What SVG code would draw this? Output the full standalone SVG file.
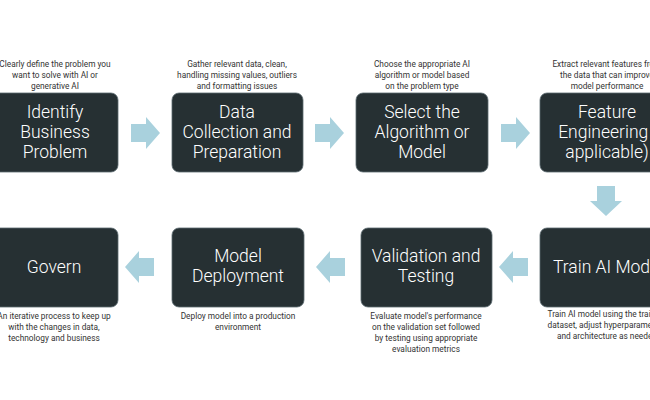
<svg xmlns="http://www.w3.org/2000/svg" width="650" height="400" viewBox="0 0 650 400">
<style>
.box{fill:#263033;stroke:#5b6a70;stroke-width:0.8}
.t{font-family:Roboto,"Liberation Sans",sans-serif;font-size:17.5px;font-weight:300;fill:#ffffff;text-anchor:middle}
.d{font-family:Roboto,"Liberation Sans",sans-serif;font-size:8.3px;fill:#333333;text-anchor:middle}
.ar{fill:#a9d1dd}
</style>
<rect width="650" height="400" fill="#ffffff"/>
<g id="connectors">
<polygon class="ar" points="131,124 146,124 146,117 160,133 146,149 146,142 131,142"/>
<polygon class="ar" points="315,124 330,124 330,117 344,133 330,149 330,142 315,142"/>
<polygon class="ar" points="501,124 516,124 516,117 530,133 516,149 516,142 501,142"/>
<polygon class="ar" points="597,186 615,186 615,201 622,201 606,216 590,201 597,201"/>
<polygon class="ar" points="528,258 513,258 513,251 499,267 513,283 513,276 528,276"/>
<polygon class="ar" points="345,258 330,258 330,251 316,267 330,283 330,276 345,276"/>
<polygon class="ar" points="154,258 139,258 139,251 125,267 139,283 139,276 154,276"/>
</g>
<g id="n1"><text class="d" x="55" y="67">Clearly define the problem you</text><text class="d" x="55" y="78">want to solve with AI or</text><text class="d" x="55" y="89">generative AI</text>
<rect class="box" x="-8" y="93" width="126" height="79" rx="7"/><text class="t" x="55" y="118">Identify</text><text class="t" x="55" y="138">Business</text><text class="t" x="55" y="158">Problem</text></g>
<g id="n2"><text class="d" x="237" y="67">Gather relevant data, clean,</text><text class="d" x="237" y="78">handling missing values, outliers</text><text class="d" x="237" y="89">and formatting issues</text>
<rect class="box" x="172" y="93" width="131" height="79" rx="7"/><text class="t" x="237" y="118">Data</text><text class="t" x="237" y="138">Collection and</text><text class="t" x="237" y="158">Preparation</text></g>
<g id="n3"><text class="d" x="422" y="67">Choose the appropriate AI</text><text class="d" x="422" y="78">algorithm or model based</text><text class="d" x="422" y="89">on the problem type</text>
<rect class="box" x="356" y="93" width="132" height="79" rx="7"/><text class="t" x="422" y="118">Select the</text><text class="t" x="422" y="138">Algorithm or</text><text class="t" x="422" y="158">Model</text></g>
<g id="n4"><text class="d" x="607" y="67">Extract relevant features from</text><text class="d" x="607" y="78">the data that can improve</text><text class="d" x="607" y="89">model performance</text>
<rect class="box" x="540" y="93" width="132" height="79" rx="7"/><text class="t" x="607" y="118">Feature</text><text class="t" x="613" y="138">Engineering (if</text><text class="t" x="607" y="158">applicable)</text></g>
<g id="n5"><rect class="box" x="540" y="228" width="132" height="79" rx="7"/><text class="t" x="608" y="273">Train AI Model</text>
<text class="d" x="607" y="317">Train AI model using the training</text><text class="d" x="607" y="328">dataset, adjust hyperparameters</text><text class="d" x="607" y="339">and architecture as needed</text></g>
<g id="n6"><rect class="box" x="361" y="228" width="131" height="79" rx="7"/><text class="t" x="426" y="262">Validation and</text><text class="t" x="426" y="282">Testing</text>
<text class="d" x="426" y="319">Evaluate model's performance</text><text class="d" x="426" y="330">on the validation set followed</text><text class="d" x="426" y="341">by testing using appropriate</text><text class="d" x="426" y="352">evaluation metrics</text></g>
<g id="n7"><rect class="box" x="172" y="228" width="132" height="79" rx="7"/><text class="t" x="238" y="262">Model</text><text class="t" x="238" y="282">Deployment</text>
<text class="d" x="238" y="319">Deploy model into a production</text><text class="d" x="238" y="330">environment</text></g>
<g id="n8"><rect class="box" x="-10" y="228" width="128" height="79" rx="7"/><text class="t" x="54" y="273">Govern</text>
<text class="d" x="54" y="319">An iterative process to keep up</text><text class="d" x="54" y="330">with the changes in data,</text><text class="d" x="54" y="341">technology and business</text></g>
</svg>
